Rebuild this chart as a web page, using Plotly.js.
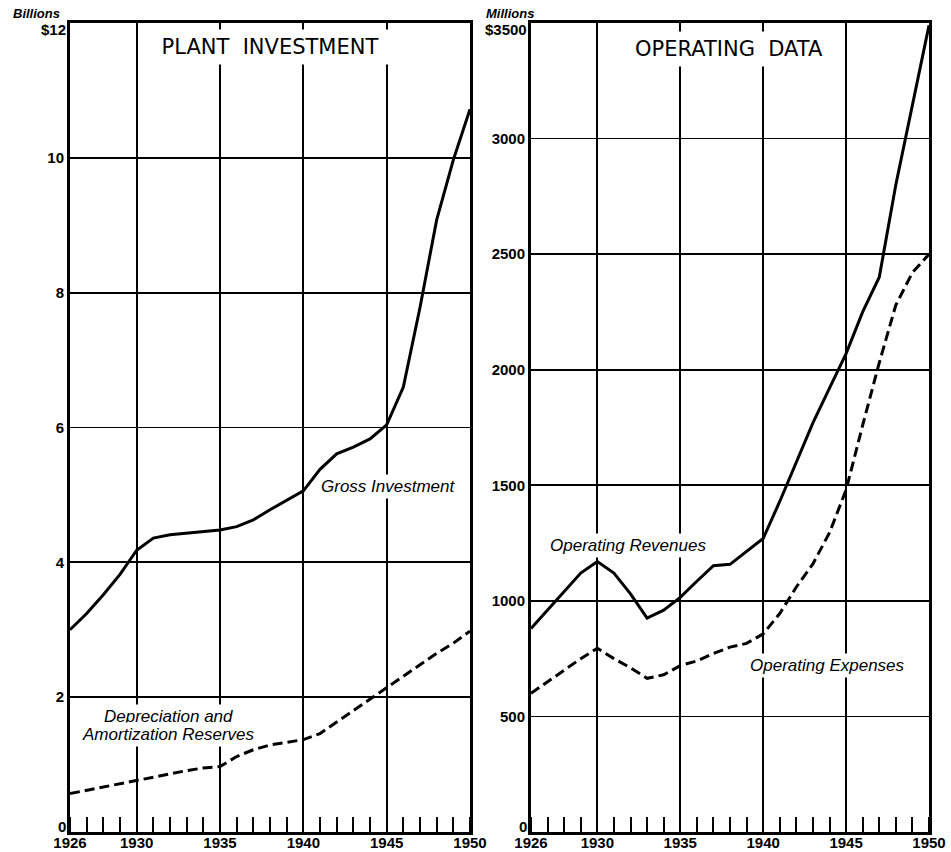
<!DOCTYPE html>
<html>
<head>
<meta charset="utf-8">
<script src="https://cdn.plot.ly/plotly-3.0.1.min.js"></script>
<style>html,body{margin:0;padding:0;background:#fff;}#chart{width:951px;height:852px;}</style>
</head>
<body>
<div id="chart"></div>
<script>
// ---- Data ----
const years = [1926,1927,1928,1929,1930,1931,1932,1933,1934,1935,1936,1937,1938,1939,1940,1941,1942,1943,1944,1945,1946,1947,1948,1949,1950];
// Plant investment, billions of dollars
const grossInvestment = [3.0,3.24,3.52,3.82,4.18,4.36,4.41,4.43,4.45,4.48,4.53,4.63,4.78,4.92,5.06,5.38,5.61,5.71,5.83,6.04,6.6,7.78,9.08,9.97,10.72];
const depreciationReserves = [0.57,0.62,0.66,0.71,0.76,0.82,0.86,0.91,0.95,0.97,1.12,1.22,1.29,1.33,1.37,1.46,1.63,1.8,1.98,2.14,2.32,2.48,2.65,2.8,2.98];
// Operating data, millions of dollars
const operatingRevenues = [880,960,1040,1120,1170,1120,1030,925,960,1015,1085,1152,1158,1212,1270,1430,1600,1770,1920,2070,2250,2400,2800,3150,3490];
const operatingExpenses = [600,650,700,750,795,750,710,665,680,720,740,772,800,816,857,945,1060,1160,1295,1480,1760,2030,2280,2420,2500];
// Tick labels
const xTickVals = [1926,1930,1935,1940,1945,1950];
const xTickText = ['1926','1930','1935','1940','1945','1950'];
const leftTickVals = [0,2,4,6,8,10,12];
const leftTickText = ['0','2','4','6','8','10','$12'];
const rightTickVals = [0,500,1000,1500,2000,2500,3000,3500];
const rightTickText = ['0','500','1000','1500','2000','2500','3000','$3500'];
const leftUnit = 'Billions';
const rightUnit = 'Millions';
const leftTitle = 'PLANT  INVESTMENT';
const rightTitle = 'OPERATING  DATA';

const solid = {color:'#000', width:3};
const dashed = {color:'#000', width:3, dash:'10px,5px'};

const traces = [
  {x: years, y: grossInvestment, xaxis:'x', yaxis:'y', mode:'lines', line: solid, name:'Gross Investment'},
  {x: years, y: depreciationReserves, xaxis:'x', yaxis:'y', mode:'lines', line: dashed, name:'Depreciation and Amortization Reserves'},
  {x: years, y: operatingRevenues, xaxis:'x2', yaxis:'y2', mode:'lines', line: solid, name:'Operating Revenues'},
  {x: years, y: operatingExpenses, xaxis:'x2', yaxis:'y2', mode:'lines', line: dashed, name:'Operating Expenses'}
];

const tickFont = {family:'Liberation Sans, Arial, sans-serif', size:15, color:'#000', weight:'bold'};
const yDom = [1-832/852, 1-23/852];

function xAxis(dom, anchor){
  return {
    domain: dom, anchor: anchor, range:[1926,1950],
    tickmode:'array', tickvals: xTickVals, ticktext: xTickText,
    ticks:'', ticklabelstandoff:-5, showgrid:true, gridcolor:'#000', gridwidth:1.7,
    showline:true, linecolor:'#000', linewidth:3, mirror:true,
    zeroline:false, tickfont: tickFont, automargin:false,
    minor:{tickmode:'linear', tick0:1926, dtick:1, ticks:'inside', ticklen:15, tickwidth:2, tickcolor:'#000', showgrid:false},
    fixedrange:true
  };
}
function yAxis(range, vals, text, anchor){
  // the "0" and top ($12 / $3500) labels are drawn as annotations, slightly inset as in the original
  const shown = text.map((t,i)=> (i===0 || i===text.length-1) ? '' : t);
  return {
    domain: yDom, anchor: anchor, range: range,
    tickmode:'array', tickvals: vals, ticktext: shown,
    ticks:'', ticklabelstandoff:0, showgrid:true, gridcolor:'#000', gridwidth:1.7,
    showline:true, linecolor:'#000', linewidth:3, mirror:true,
    zeroline:false, tickfont: tickFont, automargin:false, fixedrange:true
  };
}

const italic = {family:'Liberation Sans, Arial, sans-serif', size:17, color:'#000', style:'italic'};
const unitFont = {family:'Liberation Sans, Arial, sans-serif', size:13, color:'#000', style:'italic', weight:'bold'};
const titleFont = {family:'DejaVu Sans, sans-serif', size:21, color:'#000'};

function lab(xref, yref, x, y, text){
  return {xref:xref, yref:yref, x:x, y:y, text:text, showarrow:false, font: italic,
          xanchor:'center', yanchor:'middle', bgcolor:'#fff', borderpad:2};
}
function pap(x, y, text, font, xanchor, extra){
  return Object.assign({xref:'paper', yref:'paper', x:x/951, y:1-y/852, text:text, showarrow:false,
          font:font, xanchor:xanchor, yanchor:'middle'}, extra||{});
}

const layout = {
  width:951, height:852,
  margin:{l:0, r:0, t:0, b:0},
  paper_bgcolor:'#fff', plot_bgcolor:'#fff',
  showlegend:false,
  xaxis: xAxis([70/951, 470/951], 'y'),
  yaxis: yAxis([0,12], leftTickVals, leftTickText, 'x'),
  xaxis2: xAxis([531/951, 929/951], 'y2'),
  yaxis2: yAxis([0,3500], rightTickVals, rightTickText, 'x2'),
  annotations: [
    pap(270, 47, leftTitle, titleFont, 'center', {bgcolor:'#fff', borderpad:5, width:236}),
    pap(729, 49, rightTitle, titleFont, 'center', {bgcolor:'#fff', borderpad:5}),
    pap(36, 13, leftUnit, unitFont, 'center'),
    pap(510, 13, rightUnit, unitFont, 'center'),
    pap(68, 30, leftTickText[leftTickText.length-1], tickFont, 'right'),
    pap(529, 30, rightTickText[rightTickText.length-1], tickFont, 'right'),
    pap(68, 826, leftTickText[0], tickFont, 'right'),
    pap(529, 826, rightTickText[0], tickFont, 'right'),
    lab('x', 'y', 1945.1, 5.13, 'Gross Investment'),
    lab('x', 'y', 1931.88, 1.72, 'Depreciation and'),
    lab('x', 'y', 1931.88, 1.45, 'Amortization Reserves'),
    lab('x2', 'y2', 1931.85, 1240, 'Operating Revenues'),
    lab('x2', 'y2', 1943.9, 719, 'Operating Expenses')
  ]
};

Plotly.newPlot('chart', traces, layout, {staticPlot:true});
</script>
</body>
</html>
